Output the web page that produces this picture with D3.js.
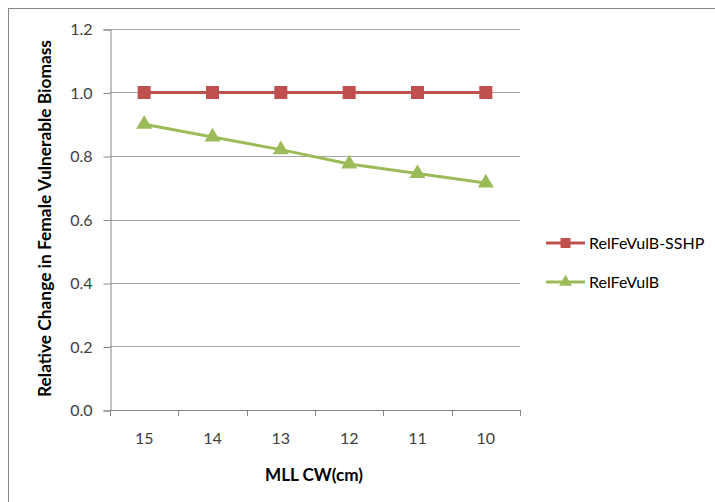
<!DOCTYPE html>
<html><head><meta charset="utf-8">
<script src="https://cdn.jsdelivr.net/npm/d3@7"></script>
<style>body{margin:0;background:#fff}svg{display:block}text{font-family:Lato,"Open Sans",sans-serif}</style>
</head><body><svg id="c" width="715" height="502"></svg>
<script>
const categories = ["15","14","13","12","11","10"];
const sshp = [1.0,1.0,1.0,1.0,1.0,1.0];
const relFe = [0.90,0.86,0.82,0.775,0.745,0.715];
const yTicks = [0,0.2,0.4,0.6,0.8,1.0,1.2];
const seriesNames = ["RelFeVulB-SSHP","RelFeVulB"];
const colors = ["#C0504D","#9BBB59"];

const svg = d3.select("#c");
svg.append("rect").attr("x",8.5).attr("y",8.5).attr("width",800).attr("height",600)
  .attr("fill","none").attr("stroke","#868686").attr("stroke-width",1);

const L=110,R=520,T=29,B=410;
const x = d3.scaleBand().domain(categories).range([L,R]);
const y = d3.scaleLinear().domain([0,1.2]).range([B,T]);

svg.append("g").selectAll("line").data(yTicks.slice(1)).join("line")
  .attr("x1",L).attr("x2",R).attr("y1",d=>Math.round(y(d))+0.5).attr("y2",d=>Math.round(y(d))+0.5)
  .attr("stroke","#a6a6a6").attr("stroke-width",1);

const yAxis = svg.append("g").attr("transform",`translate(${L+0.5},0.5)`)
  .call(d3.axisLeft(y).tickValues(yTicks).tickFormat(d3.format(".1f")).tickSize(7).tickPadding(11));
const xAxis = svg.append("g").attr("transform",`translate(0,${B+0.5})`)
  .call(d3.axisBottom(x).tickSize(0).tickPadding(22));
svg.append("g").selectAll("line").data(categories.concat(["end"])).join("line")
  .attr("x1",(d,i)=>Math.round(L+i*x.bandwidth())+0.5).attr("x2",(d,i)=>Math.round(L+i*x.bandwidth())+0.5)
  .attr("y1",B).attr("y2",B+6).attr("stroke","#868686");
[yAxis,xAxis].forEach(g=>{
  g.select(".domain").attr("stroke","#868686");
  g.selectAll(".tick line").attr("stroke","#868686");
  g.selectAll("text").attr("font-size",16).attr("fill","#404040").attr("font-family","Lato,'Open Sans',sans-serif");
});
xAxis.select(".domain").attr("d",`M${L},0H${R}`);

const line = d3.line().x((d,i)=>x(categories[i])+x.bandwidth()/2).y(d=>y(d));
svg.append("path").datum(sshp).attr("d",line).attr("fill","none").attr("stroke",colors[0]).attr("stroke-width",3);
svg.append("path").datum(relFe).attr("d",line).attr("fill","none").attr("stroke",colors[1]).attr("stroke-width",3);
const sq=d3.symbol().type(d3.symbolSquare).size(170);
const tri=d3.symbol().type(d3.symbolTriangle).size(110);
svg.append("g").selectAll("path").data(sshp).join("path").attr("d",sq)
  .attr("transform",(d,i)=>`translate(${x(categories[i])+x.bandwidth()/2},${y(d)})`).attr("fill",colors[0]);
svg.append("g").selectAll("path").data(relFe).join("path").attr("d",tri)
  .attr("transform",(d,i)=>`translate(${x(categories[i])+x.bandwidth()/2},${y(d)})`).attr("fill",colors[1]);

svg.append("text").attr("x",314).attr("y",481).attr("text-anchor","middle").attr("font-size",16.5)
  .attr("font-weight","bold").attr("fill","#000").attr("textLength",98).attr("lengthAdjust","spacingAndGlyphs").text("MLL CW(cm)");
svg.append("text").attr("transform","translate(51,218.5) rotate(-90)").attr("text-anchor","middle")
  .attr("font-size",16.5).attr("font-weight","bold").attr("fill","#000")
  .attr("textLength",357).attr("lengthAdjust","spacingAndGlyphs").text("Relative Change in Female Vulnerable Biomass");

const lg = svg.append("g");
seriesNames.forEach((n,i)=>{
  const yy = 243 + i*39;
  lg.append("line").attr("x1",546).attr("x2",585).attr("y1",yy).attr("y2",yy).attr("stroke",colors[i]).attr("stroke-width",3);
  lg.append("path").attr("d",(i==0?d3.symbol().type(d3.symbolSquare).size(100):d3.symbol().type(d3.symbolTriangle).size(70))())
    .attr("transform",`translate(565.5,${yy})`).attr("fill",colors[i]);
  lg.append("text").attr("x",589).attr("y",yy+5.5).attr("font-size",16).attr("fill","#000").text(n);
});
</script></body></html>
